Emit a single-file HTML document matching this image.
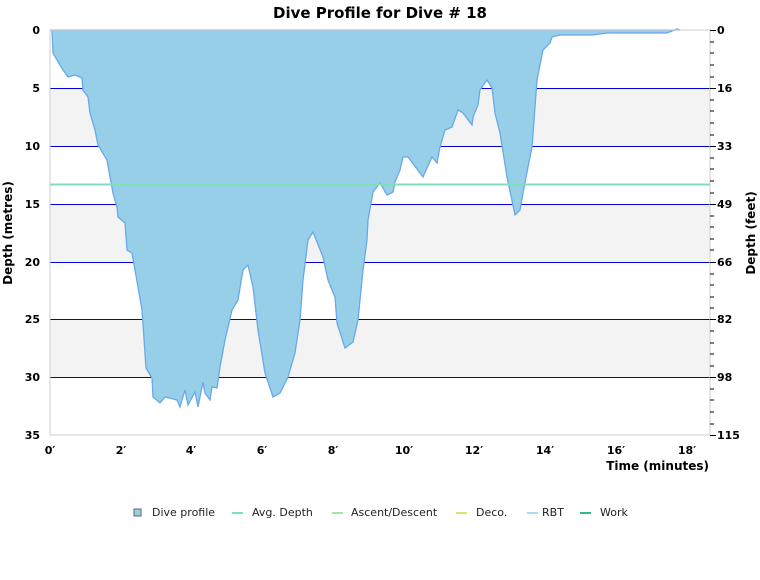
<!DOCTYPE html>
<html><head><meta charset="utf-8"><style>body{margin:0;background:#fff}svg{display:block;font-family:"DejaVu Sans","Liberation Sans",sans-serif}</style></head><body>
<svg width="760" height="580" viewBox="0 0 760 580">
<text x="380" y="18" text-anchor="middle" font-size="15" font-weight="bold">Dive Profile for Dive # 18</text>
<rect x="50" y="88" width="660" height="58" fill="#f3f3f3"/>
<rect x="50" y="204" width="660" height="58" fill="#f3f3f3"/>
<rect x="50" y="319" width="660" height="58" fill="#f3f3f3"/>
<g stroke="#0000dd" stroke-width="1">
<line x1="50" y1="88.5" x2="710" y2="88.5"/><line x1="50" y1="146.5" x2="710" y2="146.5"/><line x1="50" y1="204.5" x2="710" y2="204.5"/><line x1="50" y1="262.5" x2="710" y2="262.5"/><line x1="50" y1="319.5" x2="710" y2="319.5"/><line x1="50" y1="377.5" x2="710" y2="377.5"/>
</g>
<polygon fill="#97cfe8" stroke="#6aa8e8" stroke-width="1.3" points="50,30 52,30 53,53 57,60 63,70 68,77 75,75 82,78 83,90 88,97 90,113 95,130 98,145 107,160 110,177 113,193 117,207 118,217 125,223 127,250 132,253 138,287 142,310 146,368 152,378 153,397 160,403 165,397 177,400 180,407 185,390 188,405 195,392 198,407 203,382 205,393 210,400 212,387 217,388 220,367 225,340 232,310 238,300 243,270 248,265 253,287 258,330 265,373 273,397 280,393 288,377 295,353 300,320 303,280 308,240 313,232 317,242 323,257 328,280 335,297 337,323 345,348 353,342 358,320 363,270 367,240 368,220 373,192 380,183 387,195 393,192 395,182 400,170 403,157 408,157 423,177 432,157 437,163 440,147 445,130 452,127 458,110 463,113 472,125 473,117 478,105 480,90 487,80 492,88 495,113 500,133 507,177 515,215 520,210 523,193 528,167 532,147 535,107 537,80 543,50 550,43 552,37 560,35 593,35 607,33 667,33 677,29 680,30 680,30"/>
<line x1="50" y1="184.5" x2="710" y2="184.5" stroke="#7ee0b8" stroke-width="2"/>
<rect x="50" y="30" width="660" height="405" fill="none" stroke="#ccc"/>
<g font-size="11" font-weight="bold" text-anchor="end">
<text x="40" y="34">0</text><text x="40" y="92">5</text><text x="40" y="150">10</text><text x="40" y="208">15</text><text x="40" y="266">20</text><text x="40" y="323">25</text><text x="40" y="381">30</text><text x="40" y="439">35</text>
</g>
<g stroke="#000">
<line x1="710" y1="30" x2="710" y2="435" stroke="#ccc"/>
<path d="M710 30.5h6M710 88.5h6M710 146.5h6M710 204.5h6M710 262.5h6M710 319.5h6M710 377.5h6M710 435.5h6"/>
<path d="M710 42h4M710 53h4M710 65h4M710 77h4M710 100h4M710 111h4M710 123h4M710 135h4M710 158h4M710 169h4M710 181h4M710 193h4M710 216h4M710 227h4M710 239h4M710 250h4M710 274h4M710 285h4M710 297h4M710 308h4M710 331h4M710 343h4M710 354h4M710 366h4M710 389h4M710 400h4M710 412h4M710 424h4"/>
</g>
<g font-size="11" font-weight="bold">
<text x="717" y="34">0</text><text x="717" y="92">16</text><text x="717" y="150">33</text><text x="717" y="208">49</text><text x="717" y="266">66</text><text x="717" y="323">82</text><text x="717" y="381">98</text><text x="717" y="439">115</text>
</g>
<g font-size="11" font-weight="bold" text-anchor="middle">
<text x="50" y="454">0′</text><text x="121" y="454">2′</text><text x="191" y="454">4′</text><text x="262" y="454">6′</text><text x="333" y="454">8′</text><text x="404" y="454">10′</text><text x="474" y="454">12′</text><text x="545" y="454">14′</text><text x="616" y="454">16′</text><text x="687" y="454">18′</text>
</g>
<text x="709" y="470" text-anchor="end" font-size="12" font-weight="bold">Time (minutes)</text>
<text transform="translate(12,233) rotate(-90)" text-anchor="middle" font-size="12" font-weight="bold">Depth (metres)</text>
<text transform="translate(755,233) rotate(-90)" text-anchor="middle" font-size="12" font-weight="bold">Depth (feet)</text>
<g font-size="11" fill="#222">
<rect x="134" y="509" width="7" height="7" fill="#97cfe8" stroke="#666"/><text x="152" y="516">Dive profile</text>
<rect x="232" y="512" width="11" height="2" fill="#7ee0b8"/><text x="252" y="516">Avg. Depth</text>
<rect x="332" y="512" width="11" height="2" fill="#a0e8a0"/><text x="351" y="516">Ascent/Descent</text>
<rect x="456" y="512" width="11" height="2" fill="#dde070"/><text x="476" y="516">Deco.</text>
<rect x="527" y="512" width="11" height="2" fill="#a8dcf4"/><text x="542" y="516">RBT</text>
<rect x="580" y="512" width="11" height="2" fill="#30b890"/><text x="600" y="516">Work</text>
</g>
</svg>
</body></html>
